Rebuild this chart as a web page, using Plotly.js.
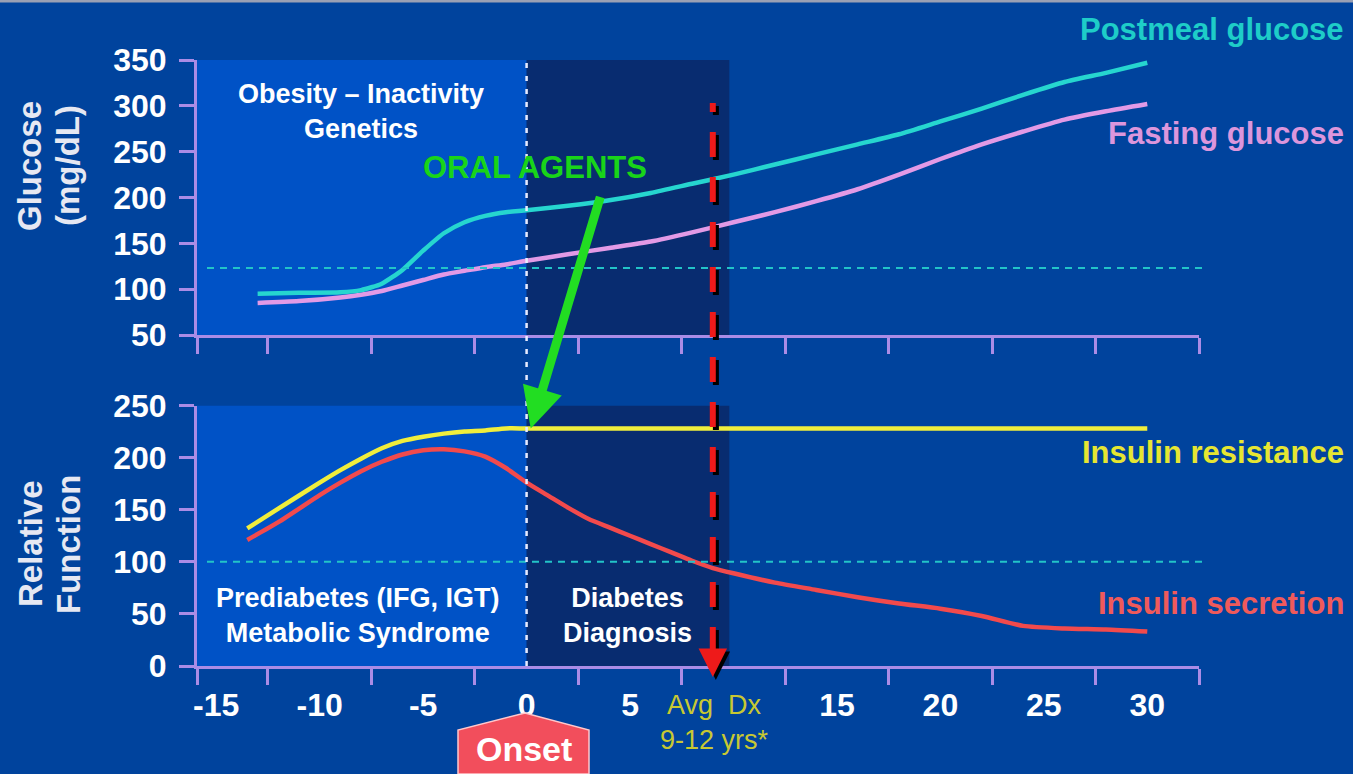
<!DOCTYPE html>
<html>
<head>
<meta charset="utf-8">
<script src="https://cdn.plot.ly/plotly-3.0.1.min.js"></script>
<style>
  html, body { margin: 0; padding: 0; background: #00439d; overflow: hidden; }
  #chart { width: 1353px; height: 774px; }
</style>
</head>
<body>
<div id="chart"></div>
<script>
// Years relative to onset of diabetes
const glucoseYears    = [-13, -11, -9, -8, -7, -6, -5, -4, -3, -2, -1, 0, 2, 4, 6, 8, 10, 12, 14, 16, 18, 20, 22, 24, 26, 28, 30];
const postmealGlucose = [95, 96, 96.5, 99, 106, 121, 142, 161, 173, 180, 184, 186, 191, 197, 205, 215, 225, 236, 247, 258, 269, 283, 297, 312, 326, 336, 347];
const fastingGlucose  = [85, 87, 91, 94, 98, 104, 110, 116, 120, 124, 127, 131, 138, 145, 152, 162, 173, 184, 196, 209, 225, 242, 258, 272, 285, 294, 302];

const resistanceYears   = [-13.5, -12, -10, -9, -8, -7, -6, -5, -4, -3, -2, -1, 0, 10, 20, 30];
const insulinResistance = [132, 151, 176, 188, 199, 209, 216, 220, 223, 225, 226, 228, 228, 228, 228, 228];

const secretionYears   = [-13.5, -12, -10, -9, -8, -7, -6, -5, -4, -3, -2, -1, 0, 1, 2, 3, 4, 5, 6, 7, 8, 9, 10, 12, 14, 16, 18, 20, 22, 24, 26, 28, 30];
const insulinSecretion = [121, 138, 164, 176, 187, 196, 203, 207, 208, 206, 201, 190, 176, 164, 152, 141, 133, 125, 117, 109, 101, 94, 89, 80, 73, 66, 60, 55, 48, 38.5, 36, 35, 33];

// Axis ticks
const yearTicks      = [-15, -10, -5, 0, 5, 15, 20, 25, 30];
const yearTickText   = ['-15', '-10', '-5', '0', '5', '15', '20', '25', '30'];
const glucoseTicks   = [50, 100, 150, 200, 250, 300, 350];
const functionTicks  = [0, 50, 100, 150, 200, 250];

// Reference levels and milestones
const glucoseThreshold  = 123;   // mg/dL
const functionThreshold = 100;
const onsetYear         = 0;
const avgDiagnosisYear  = 9;
const diagnosisPhaseEnd = 9.8;

// ---- page geometry helpers (pixel -> paper) ----
const W = 1353, H = 774;
const px = v => v / W;
const py = v => 1 - v / H;

const BG = '#00439d', BRIGHT = '#0052c6', DARK = '#082c70', AXIS = '#aa8ce6';
const FONT = 'Liberation Sans, Arial, sans-serif';
const xRange = [-15.93, 32.5];
const xDomain = [px(197), px(1199)];
const betweenTicks = [-15.9, -12.5, -7.5, -2.5, 2.5, 7.5, 12.5, 17.5, 22.5, 27.5, 32.5];

const tickFont = { family: FONT, size: 32, color: '#ffffff', weight: 'bold' };

const baseX = {
  domain: xDomain, range: xRange, showgrid: false, zeroline: false,
  showline: true, linecolor: AXIS, linewidth: 3,
  tickmode: 'array', tickvals: yearTicks, ticktext: yearTickText,
  ticks: 'outside', ticklen: 9, tickcolor: 'rgba(0,0,0,0)',
  minor: { tickmode: 'array', tickvals: betweenTicks, ticks: 'outside', ticklen: 16, tickwidth: 3, tickcolor: AXIS },
  tickfont: tickFont, fixedrange: true
};
const baseY = {
  showgrid: false, zeroline: false, showline: true, linecolor: AXIS, linewidth: 3,
  ticks: 'outside', ticklen: 15, tickwidth: 3, tickcolor: AXIS,
  tickmode: 'array', tickfont: tickFont, ticklabelstandoff: 6, fixedrange: true
};

const lineStyle = (color) => ({ color: color, width: 4.5, shape: 'spline', smoothing: 0.6 });

const traces = [
  { x: glucoseYears, y: fastingGlucose, xaxis: 'x', yaxis: 'y', mode: 'lines', line: lineStyle('#e29ae6'), name: 'Fasting glucose' },
  { x: glucoseYears, y: postmealGlucose, xaxis: 'x', yaxis: 'y', mode: 'lines', line: lineStyle('#26d6cf'), name: 'Postmeal glucose' },
  { x: resistanceYears, y: insulinResistance, xaxis: 'x2', yaxis: 'y2', mode: 'lines', line: lineStyle('#f0ee3c'), name: 'Insulin resistance' },
  { x: secretionYears, y: insulinSecretion, xaxis: 'x2', yaxis: 'y2', mode: 'lines', line: lineStyle('#f24a4c'), name: 'Insulin secretion' }
];

function band(xref, yref, x0, x1, y0, y1, color) {
  return { type: 'rect', xref, yref, x0, x1, y0, y1, fillcolor: color, line: { width: 0 }, layer: 'below' };
}

const onsetBadge = [
  'M', px(458), py(774), 'L', px(458), py(730), 'L', px(525), py(713),
  'L', px(589), py(730), 'L', px(589), py(774), 'Z'
].join(' ').replace(/ (?=[\d.-])/g, ' ');

const shapes = [
  // phase bands
  band('x', 'y', xRange[0], onsetYear, 50, 350, BRIGHT),
  band('x', 'y', onsetYear, diagnosisPhaseEnd, 50, 350, DARK),
  band('x2', 'y2', xRange[0], onsetYear, 0, 250, BRIGHT),
  band('x2', 'y2', onsetYear, diagnosisPhaseEnd, 0, 250, DARK),
  // reference levels
  { type: 'line', xref: 'paper', yref: 'y', x0: px(207), x1: px(1208), y0: glucoseThreshold, y1: glucoseThreshold,
    line: { color: '#22c4c8', width: 2, dash: '7px,6px' } },
  { type: 'line', xref: 'paper', yref: 'y2', x0: px(207), x1: px(1208), y0: functionThreshold, y1: functionThreshold,
    line: { color: '#22c4c8', width: 2, dash: '7px,6px' } },
  // onset marker
  { type: 'line', xref: 'x', yref: 'paper', x0: onsetYear, x1: onsetYear, y0: py(666), y1: py(58),
    line: { color: '#e8ecff', width: 2.5, dash: '5px,8px' } },
  // average diagnosis marker (shadow, then line)
  { type: 'line', xref: 'x', yref: 'paper', x0: avgDiagnosisYear + 0.15, x1: avgDiagnosisYear + 0.15, y0: py(655), y1: py(106),
    line: { color: '#000000', width: 6, dash: '25px,20px' } },
  { type: 'line', xref: 'x', yref: 'paper', x0: avgDiagnosisYear, x1: avgDiagnosisYear, y0: py(652), y1: py(103),
    line: { color: '#ee1a1a', width: 6, dash: '25px,20px' } },
  // onset badge
  { type: 'path', xref: 'paper', yref: 'paper', path: onsetBadge, fillcolor: '#f24e5c',
    line: { color: '#ffc8cc', width: 1.5 } },
  // top edge
  { type: 'line', xref: 'paper', yref: 'paper', x0: 0, x1: 1, y0: py(1), y1: py(1), line: { color: '#9aa0b4', width: 3 } }
];

function label(text, x, y, color, size, opts) {
  return Object.assign({
    text, xref: 'paper', yref: 'paper', x: px(x), y: py(y), showarrow: false,
    xanchor: 'center', yanchor: 'middle',
    font: { family: FONT, size, color, weight: 'bold' }
  }, opts || {});
}

const annotations = [
  label('Postmeal glucose', 1346, 30, '#1ecdc8', 31, { xanchor: 'right' }),
  label('Fasting glucose', 1346, 133, '#dc96dc', 31, { xanchor: 'right' }),
  label('Insulin resistance', 1346, 452, '#e6e632', 31, { xanchor: 'right' }),
  label('Insulin secretion', 1346, 603, '#f05a5a', 31, { xanchor: 'right' }),
  label('Obesity \u2013 Inactivity<br>Genetics', 361, 111, '#ffffff', 27),
  label('Prediabetes (IFG, IGT)<br>Metabolic Syndrome', 358, 615, '#ffffff', 27),
  label('Diabetes<br>Diagnosis', 627, 615, '#ffffff', 27),
  label('ORAL AGENTS', 535, 168, '#19d419', 31),
  label('Avg  Dx<br>9-12 yrs*', 714, 722, '#c8c832', 27, { font: { family: FONT, size: 27, color: '#c8c832' } }),
  label('Onset', 524, 749, '#ffffff', 34),
  label('Glucose', 30, 166, '#e6e8f2', 33, { textangle: -90 }),
  label('(mg/dL)', 68, 166, '#e6e8f2', 33, { textangle: -90 }),
  label('Relative', 30, 544, '#e6e8f2', 33, { textangle: -90 }),
  label('Function', 68, 545, '#e6e8f2', 33, { textangle: -90 }),
  // oral agents arrow: points at insulin resistance at onset
  { text: '', xref: 'x2', yref: 'y2', x: 0.2, y: insulinResistance[resistanceYears.indexOf(onsetYear)],
    showarrow: true, ax: 70, ay: -233, arrowhead: 2, arrowsize: 0.9, arrowwidth: 9, arrowcolor: '#22dd22', standoff: 0 },
  // arrowhead of the average-diagnosis marker (shadow, then arrow)
  { text: '', xref: 'x', yref: 'paper', x: avgDiagnosisYear, y: py(677), xshift: 3, yshift: -3,
    showarrow: true, ax: 0, ay: -27, arrowhead: 2, arrowsize: 0.95, arrowwidth: 6, arrowcolor: '#000000', standoff: 0 },
  { text: '', xref: 'x', yref: 'paper', x: avgDiagnosisYear, y: py(677),
    showarrow: true, ax: 0, ay: -27, arrowhead: 2, arrowsize: 0.95, arrowwidth: 6, arrowcolor: '#ee1a1a', standoff: 0 }
];

const layout = {
  width: W, height: H, autosize: false,
  margin: { l: 0, r: 0, t: 0, b: 0, pad: 0 },
  paper_bgcolor: BG, plot_bgcolor: BG,
  showlegend: false,
  xaxis: Object.assign({}, baseX, { anchor: 'y', showticklabels: false }),
  xaxis2: Object.assign({}, baseX, { anchor: 'y2' }),
  yaxis: Object.assign({}, baseY, { domain: [py(335), py(60)], range: [50, 350], tickvals: glucoseTicks, anchor: 'x' }),
  yaxis2: Object.assign({}, baseY, { domain: [py(666), py(405.5)], range: [0, 250], tickvals: functionTicks, anchor: 'x2' }),
  shapes, annotations
};

Plotly.newPlot('chart', traces, layout, { displayModeBar: false, staticPlot: true });
</script>
</body>
</html>
